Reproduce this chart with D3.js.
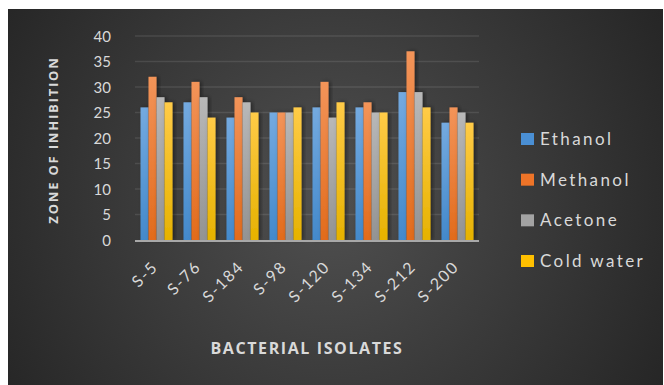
<!DOCTYPE html>
<html><head><meta charset="utf-8">
<script src="https://cdn.jsdelivr.net/npm/d3@7"></script>
<style>html,body{margin:0;padding:0;background:#fff;}svg{display:block;}</style>
</head><body>
<script>
const categories = ["S-5","S-76","S-184","S-98","S-120","S-134","S-212","S-200"];
const seriesNames = ["Ethanol","Methanol","Acetone","Cold water"];
const ethanol   = [26,27,24,25,26,26,29,23];
const methanol  = [32,31,28,25,31,27,37,26];
const acetone   = [28,28,27,25,24,25,29,25];
const coldWater = [27,24,25,26,27,25,26,23];
const yTicks = [0,5,10,15,20,25,30,35,40];
const xTitle = "BACTERIAL ISOLATES";
const yTitle = "ZONE OF INHIBITION";

const seriesValues = [ethanol, methanol, acetone, coldWater];
const colors = [
  {top:"#74aae0", bot:"#4389cb", sw:"#4a8fd4"},
  {top:"#f39459", bot:"#e26b1c", sw:"#ee7428"},
  {top:"#b8b8b8", bot:"#939393", sw:"#a3a3a3"},
  {top:"#ffcb47", bot:"#e6b200", sw:"#ffc000"}
];

const W = 664, H = 385;
const svg = d3.select("body").append("svg").attr("width", W).attr("height", H);
const defs = svg.append("defs");
const rg = defs.append("radialGradient").attr("id","bg").attr("gradientUnits","userSpaceOnUse")
  .attr("cx",330).attr("cy",200).attr("r",380);
rg.append("stop").attr("offset","0%").attr("stop-color","#505050");
rg.append("stop").attr("offset","100%").attr("stop-color","#262626");
colors.forEach((c,i)=>{
  const lg = defs.append("linearGradient").attr("id","g"+i).attr("x1",0).attr("y1",0).attr("x2",0).attr("y2",1);
  lg.append("stop").attr("offset","0%").attr("stop-color",c.top);
  lg.append("stop").attr("offset","100%").attr("stop-color",c.bot);
});
const f = defs.append("filter").attr("id","sh").attr("x","-50%").attr("y","-20%").attr("width","200%").attr("height","140%");
f.append("feDropShadow").attr("dx",2).attr("dy",0).attr("stdDeviation",2).attr("flood-color","#000").attr("flood-opacity",0.45);

svg.append("rect").attr("x",8).attr("y",9).attr("width",655).attr("height",376).attr("fill","url(#bg)");

const x0 = d3.scaleBand().domain(categories).range([135,479]).paddingInner(11/43).paddingOuter(11/86);
const x1 = d3.scaleBand().domain(seriesNames).range([0,x0.bandwidth()]);
const y = d3.scaleLinear().domain([0,40]).range([240,36]);

// gridlines
svg.append("g").selectAll("line").data(yTicks.filter(t=>t>0)).join("line")
  .attr("x1",135).attr("x2",479).attr("y1",d=>y(d)).attr("y2",d=>y(d))
  .attr("stroke","#ffffff").attr("stroke-opacity",0.1).attr("stroke-width",1.5);

// y axis labels
const yAxis = d3.axisLeft(y).tickValues(yTicks).tickSize(0).tickPadding(0);
const yg = svg.append("g").attr("transform","translate(111,0)").call(yAxis);
yg.select(".domain").remove();
yg.selectAll("text").attr("fill","#d9d9d9").attr("font-family","Lato, 'Open Sans', sans-serif")
  .attr("font-size",15).attr("dy","0.35em");

// bars
const groups = svg.append("g").selectAll("g").data(categories).join("g")
  .attr("transform",d=>`translate(${x0(d)},0)`);
groups.selectAll("rect").data((d,i)=>seriesNames.map((s,j)=>({s,j,v:seriesValues[j][i]}))).join("rect")
  .attr("x",d=>x1(d.s)).attr("width",x1.bandwidth())
  .attr("y",d=>y(d.v)).attr("height",d=>y(0)-y(d.v))
  .attr("fill",d=>`url(#g${d.j})`).attr("filter","url(#sh)");

// baseline
svg.append("line").attr("x1",135).attr("x2",479).attr("y1",y(0)+1).attr("y2",y(0)+1)
  .attr("stroke","#a8a8a8").attr("stroke-width",2);

// x labels
const xg = svg.append("g");
xg.selectAll("text").data(categories).join("text")
  .attr("transform",d=>`translate(${x0(d)+x0.bandwidth()/2-5.5},${260}) rotate(-45)`)
  .attr("text-anchor","end").attr("fill","#d9d9d9").attr("dy","0.7em")
  .attr("font-family","Lato, 'Open Sans', sans-serif").attr("font-size",16).attr("letter-spacing",1.6)
  .text(d=>d);

// titles
svg.append("text").attr("x",307).attr("y",354).attr("text-anchor","middle")
  .attr("fill","#d9d9d9").attr("font-family","'Open Sans', Lato, sans-serif").attr("font-weight","bold")
  .attr("font-size",16).attr("letter-spacing",1.6).text(xTitle);
svg.append("text").attr("transform","translate(58,140) rotate(-90)").attr("text-anchor","middle")
  .attr("fill","#d9d9d9").attr("font-family","'Open Sans', Lato, sans-serif").attr("font-weight","bold")
  .attr("font-size",13).attr("letter-spacing",1.8).text(yTitle);

// legend
const lg = svg.append("g");
const ly = d3.scalePoint().domain(seriesNames).range([139,261]);
seriesNames.forEach((s,i)=>{
  lg.append("rect").attr("x",521).attr("y",ly(s)-6).attr("width",13).attr("height",12).attr("fill",colors[i].sw);
  lg.append("text").attr("x",540).attr("y",ly(s)).attr("dy","0.36em").attr("fill","#d9d9d9")
    .attr("font-family","Lato, 'Open Sans', sans-serif").attr("font-size",17).attr("letter-spacing",2.4).text(s);
});
</script>
</body></html>
